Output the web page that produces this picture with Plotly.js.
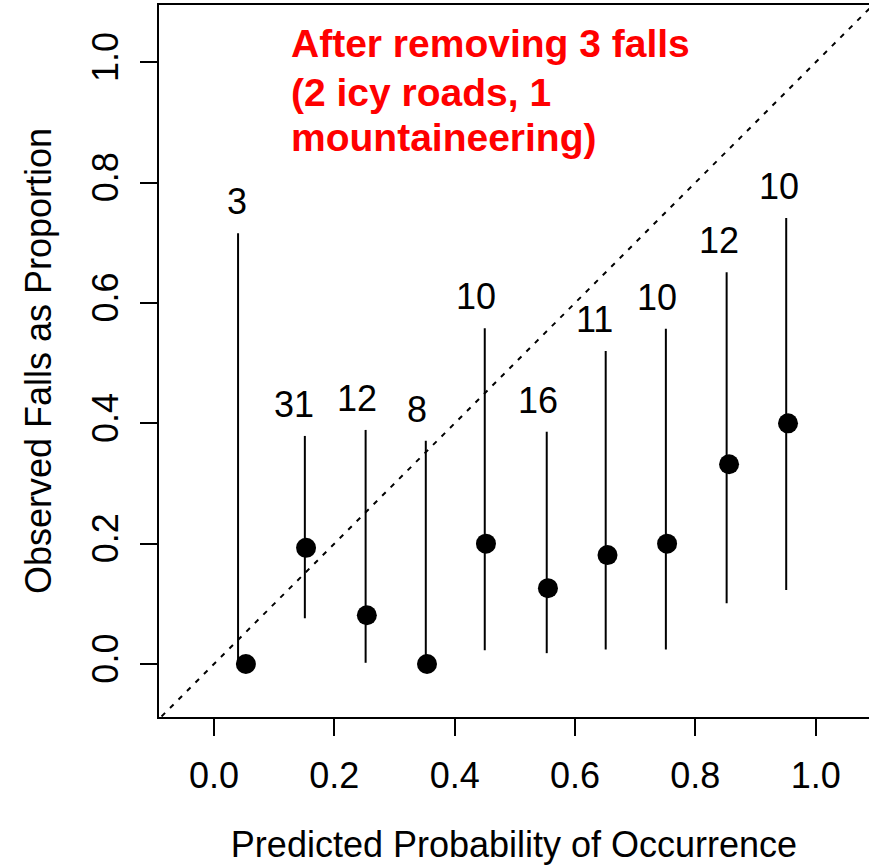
<!DOCTYPE html>
<html>
<head>
<meta charset="utf-8">
<script src="https://cdn.plot.ly/plotly-3.0.1.min.js"></script>
<style>html,body{margin:0;padding:0;background:#fff;}#chart{width:869px;height:865px;}</style>
</head>
<body>
<div id="chart"></div>
<script>
// Data
var predicted = [0.053, 0.153, 0.254, 0.354, 0.452, 0.555, 0.654, 0.753, 0.856, 0.954];
var observed  = [0.0, 0.193, 0.081, 0.0, 0.2, 0.126, 0.181, 0.2, 0.332, 0.4];
var barX      = [0.040, 0.151, 0.252, 0.352, 0.450, 0.553, 0.651, 0.751, 0.852, 0.951];
var lowerCI   = [0.0, 0.076, 0.002, 0.0, 0.023, 0.018, 0.024, 0.024, 0.101, 0.123];
var upperCI   = [0.716, 0.379, 0.389, 0.371, 0.558, 0.386, 0.520, 0.557, 0.651, 0.741];
var counts    = [3, 31, 12, 8, 10, 16, 11, 10, 12, 10];
var labelX    = [0.038, 0.133, 0.237, 0.337, 0.435, 0.538, 0.633, 0.736, 0.839, 0.939];
var diagX     = [-0.2, 1.3];
var noteLines = ["After removing 3 falls", "(2 icy roads, 1", "mountaineering)"];
var tickVals  = [0, 0.2, 0.4, 0.6, 0.8, 1.0];
var tickText  = ["0.0", "0.2", "0.4", "0.6", "0.8", "1.0"];

var FONT = '"Liberation Sans", Arial, Helvetica, sans-serif';

var traces = [
  {
    x: diagX, y: diagX, mode: 'lines', type: 'scatter',
    line: {color: 'black', width: 2, dash: '5px,7px'},
    hoverinfo: 'skip', showlegend: false
  },
  {
    x: barX, y: observed, mode: 'markers', type: 'scatter',
    marker: {size: 1, color: 'rgba(0,0,0,0)'},
    error_y: {
      type: 'data', symmetric: false,
      array: upperCI.map(function(u, i){ return u - observed[i]; }),
      arrayminus: lowerCI.map(function(l, i){ return observed[i] - l; }),
      color: 'black', thickness: 2, width: 0
    },
    showlegend: false, hoverinfo: 'skip'
  },
  {
    x: predicted, y: observed, mode: 'markers', type: 'scatter',
    marker: {size: 20, color: 'black', symbol: 'circle'},
    showlegend: false
  }
];

var annotations = counts.map(function(n, i){
  return {
    x: labelX[i], y: upperCI[i], xref: 'x', yref: 'y',
    text: String(n), showarrow: false,
    xanchor: 'center', yanchor: 'bottom', yshift: 9,
    font: {family: FONT, size: 36, color: 'black'}
  };
});
var noteY = [0.9917, 0.9102, 0.8355];
noteLines.forEach(function(t, i){
  annotations.push({
    x: 0.1246, y: noteY[i], xref: 'x', yref: 'y',
    text: '<b>' + t + '</b>', showarrow: false,
    xanchor: 'left', yanchor: 'bottom',
    font: {family: FONT, size: 39, color: '#FF0000'}
  });
});

var layout = {
  width: 869, height: 865,
  margin: {l: 159, r: 0, t: 5, b: 148, pad: 0},
  paper_bgcolor: 'white', plot_bgcolor: 'white',
  font: {family: FONT, size: 36, color: 'black'},
  showlegend: false,
  xaxis: {
    range: [-0.0914, 1.0886], autorange: false,
    tickvals: tickVals, ticktext: tickText,
    ticks: 'outside', ticklen: 17, tickwidth: 2, tickcolor: 'black',
    ticklabelstandoff: 9,
    showline: true, linewidth: 2, linecolor: 'black', mirror: true,
    showgrid: false, zeroline: false, automargin: false,
    tickfont: {family: FONT, size: 36, color: 'black'},
    title: {text: 'Predicted Probability of Occurrence', font: {family: FONT, size: 36, color: 'black'}, standoff: 39}
  },
  yaxis: {
    range: [-0.0881, 1.0952], autorange: false,
    tickvals: tickVals, ticktext: tickText, tickangle: -90,
    ticks: 'outside', ticklen: 17, tickwidth: 2, tickcolor: 'black',
    ticklabelstandoff: 8,
    showline: true, linewidth: 2, linecolor: 'black', mirror: false,
    showgrid: false, zeroline: false, automargin: false,
    tickfont: {family: FONT, size: 36, color: 'black'},
    title: {text: 'Observed Falls as Proportion', font: {family: FONT, size: 36, color: 'black'}, standoff: 22}
  },
  annotations: annotations
};

Plotly.newPlot('chart', traces, layout, {displayModeBar: false, staticPlot: true});
</script>
</body>
</html>
